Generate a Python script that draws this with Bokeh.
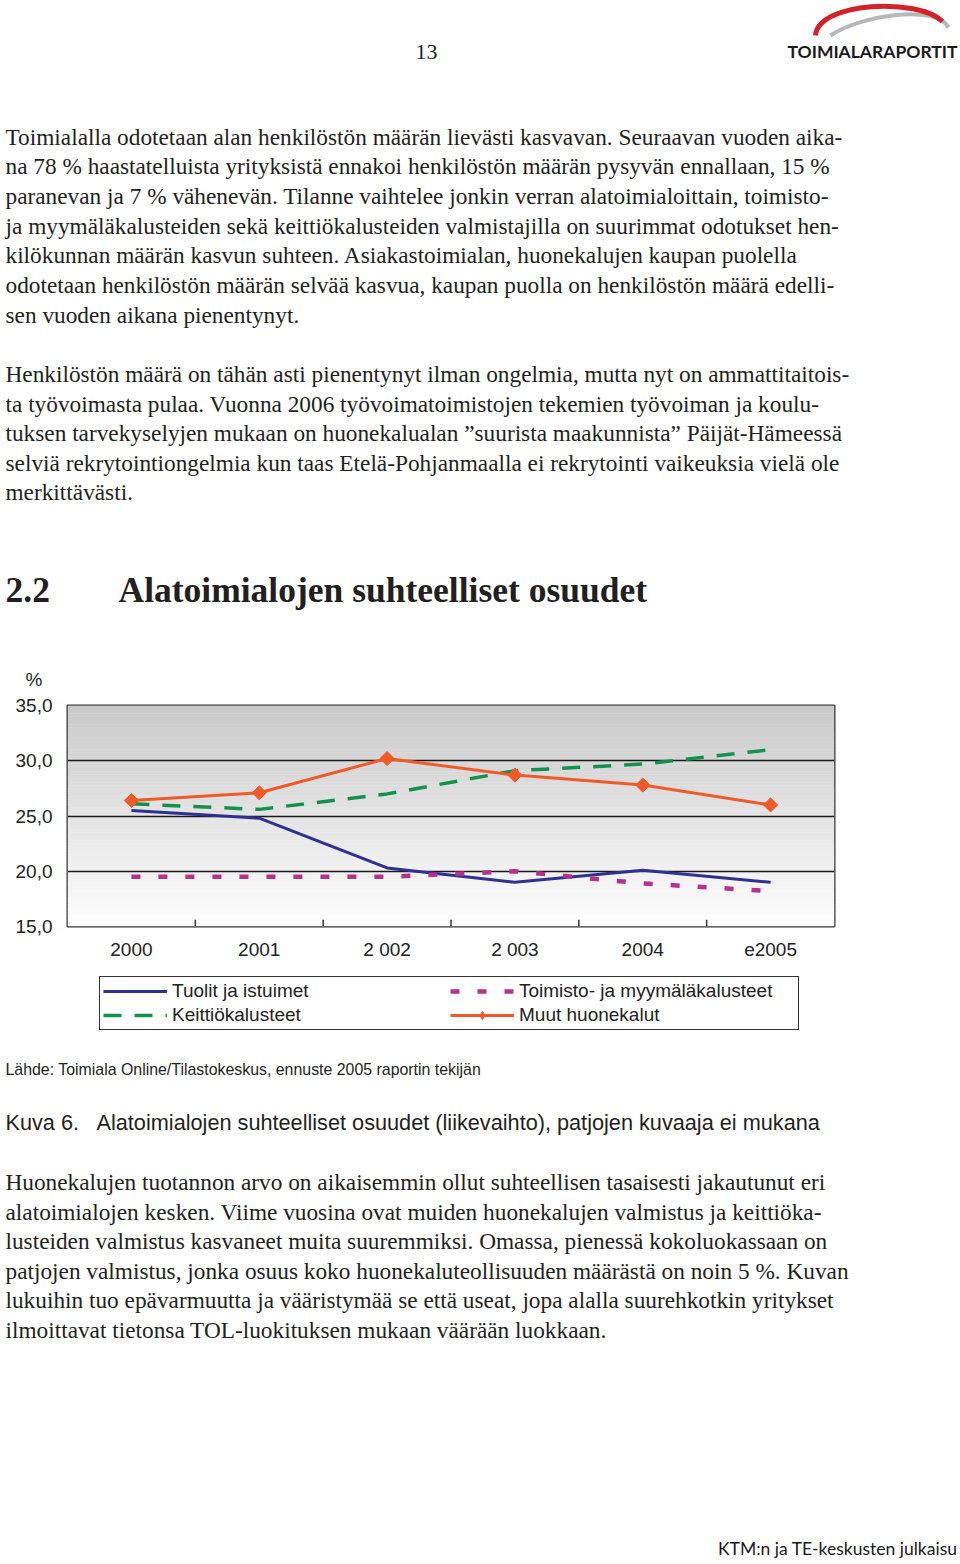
from bokeh.plotting import figure
from bokeh.models import (ColumnDataSource, Range1d, FactorRange, FixedTicker,
                          BoxAnnotation, Legend, LegendItem)
from bokeh.layouts import column
from bokeh.transform import dodge
from bokeh.core.properties import value
from bokeh.embed import file_html
from bokeh.resources import INLINE

# ---------------- data ----------------
years = ["2000", "2001", "2 002", "2 003", "2004", "e2005"]
tuolit = [25.5, 24.8, 20.3, 19.0, 20.1, 19.0]
toimisto = [19.5, 19.5, 19.5, 20.0, 18.9, 18.2]
keittio = [26.1, 25.6, 27.0, 29.1, 29.7, 31.0]
muut = [26.4, 27.1, 30.2, 28.7, 27.8, 26.0]
series_names = ["Tuolit ja istuimet", "Toimisto- ja myymäläkalusteet",
                "Keittiökalusteet", "Muut huonekalut"]
series_colors = ["#2e3192", "#b5308f", "#14924b", "#f05a28"]
y_ticks = [15, 20, 25, 30, 35]
y_tick_labels = ["15,0", "20,0", "25,0", "30,0", "35,0"]

page_number = "13"
logo_text = "TOIMIALARAPORTIT"
para1 = [
    "Toimialalla odotetaan alan henkilöstön määrän lievästi kasvavan. Seuraavan vuoden aika-",
    "na 78 % haastatelluista yrityksistä ennakoi henkilöstön määrän pysyvän ennallaan, 15 %",
    "paranevan ja 7 % vähenevän. Tilanne vaihtelee jonkin verran alatoimialoittain, toimisto-",
    "ja myymäläkalusteiden sekä keittiökalusteiden valmistajilla on suurimmat odotukset hen-",
    "kilökunnan määrän kasvun suhteen. Asiakastoimialan, huonekalujen kaupan puolella",
    "odotetaan henkilöstön määrän selvää kasvua, kaupan puolla on henkilöstön määrä edelli-",
    "sen vuoden aikana pienentynyt.",
]
para2 = [
    "Henkilöstön määrä on tähän asti pienentynyt ilman ongelmia, mutta nyt on ammattitaitois-",
    "ta työvoimasta pulaa. Vuonna 2006 työvoimatoimistojen tekemien työvoiman ja koulu-",
    "tuksen tarvekyselyjen mukaan on huonekalualan ”suurista maakunnista” Päijät-Hämeessä",
    "selviä rekrytointiongelmia kun taas Etelä-Pohjanmaalla ei rekrytointi vaikeuksia vielä ole",
    "merkittävästi.",
]
heading_num = "2.2"
heading_text = "Alatoimialojen suhteelliset osuudet"
source_text = "Lähde: Toimiala Online/Tilastokeskus, ennuste 2005 raportin tekijän"
caption_num = "Kuva 6."
caption_text = "Alatoimialojen suhteelliset osuudet (liikevaihto), patjojen kuvaaja ei mukana"
para3 = [
    "Huonekalujen tuotannon arvo on aikaisemmin ollut suhteellisen tasaisesti jakautunut eri",
    "alatoimialojen kesken. Viime vuosina ovat muiden huonekalujen valmistus ja keittiöka-",
    "lusteiden valmistus kasvaneet muita suuremmiksi. Omassa, pienessä kokoluokassaan on",
    "patjojen valmistus, jonka osuus koko huonekaluteollisuuden määrästä on noin 5 %. Kuvan",
    "lukuihin tuo epävarmuutta ja vääristymää se että useat, jopa alalla suurehkotkin yritykset",
    "ilmoittavat tietonsa TOL-luokituksen mukaan väärään luokkaan.",
]
footer_text = "KTM:n ja TE-keskusten julkaisu"

# ---------------- layout constants ----------------
W = 958
TOP_H = 650
CHART_H = 312
LEG_H = 83
BOT_H = 517
TXT = "#231f20"
SERIF = "Liberation Serif"
SANS = "Liberation Sans"
BODY = 23.3

# line styles per series
styles = [
    dict(line_width=3),
    dict(line_width=4.5, line_dash="9 18", line_cap="butt"),
    dict(line_width=3.5, line_dash="18 13", line_cap="butt"),
    dict(line_width=3),
]


def page_fig(h):
    f = figure(width=W, height=h, x_range=Range1d(0, W), y_range=Range1d(h, 0),
               output_backend="svg", toolbar_location=None, min_border=0,
               x_axis_type=None, y_axis_type=None, frame_align=False)
    f.outline_line_color = None
    f.background_fill_color = "white"
    f.border_fill_color = "white"
    return f


def add_lines(f, lines, x0, y0, dy, font, size, style="normal", align="left", color=TXT):
    src = ColumnDataSource(dict(x=[x0] * len(lines),
                                y=[y0 + i * dy for i in range(len(lines))],
                                t=lines))
    f.text(x="x", y="y", text="t", source=src, text_font=value(font),
           text_font_size=value(f"{size}px"), text_font_style=value(style),
           text_color=color, text_baseline=value("alphabetic"), text_align=value(align))


# ---------------- top page part ----------------
top = page_fig(TOP_H)
# logo arcs
top.bezier(x0=[830], y0=[35], x1=[948], y1=[27], cx0=[860], cy0=[15], cx1=[935], cy1=[3],
           line_color="#b8b8b8", line_width=4)
top.bezier(x0=[815], y0=[35], x1=[942], y1=[21], cx0=[818], cy0=[1], cx1=[918], cy1=[-3],
           line_color="#d2232a", line_width=5)
add_lines(top, [logo_text], 957, 51, 0, "Lato", 17.5, style="bold", align="right", color="#1a1a1a")
add_lines(top, [page_number], 426, 51, 0, SERIF, 22, align="center")
add_lines(top, para1, 5, 136, 29.7, SERIF, BODY)
add_lines(top, para2, 5, 373.5, 29.6, SERIF, BODY)
add_lines(top, [heading_num], 5, 589, 0, SERIF, 35.5, style="bold")
add_lines(top, [heading_text], 118, 589, 0, SERIF, 35.5, style="bold")

# ---------------- chart ----------------
c = figure(width=W, height=CHART_H, x_range=FactorRange(factors=years),
           y_range=Range1d(y_ticks[0], y_ticks[-1]),
           output_backend="svg", toolbar_location=None, frame_align=False,
           min_border_left=67, min_border_right=124, min_border_top=54, min_border_bottom=36)
c.background_fill_color = "white"
c.border_fill_color = "white"
c.outline_line_color = "#333333"
c.outline_line_width = 2

# vertical grey gradient background
n_bands = 80
y_lo, y_hi = y_ticks[0], y_ticks[-1]
for i in range(n_bands):
    lo = y_lo + (y_hi - y_lo) * i / n_bands
    hi = y_lo + (y_hi - y_lo) * (i + 1) / n_bands
    t = (i + 0.5) / n_bands
    g = int(round(254 - t * (254 - 201)))
    c.add_layout(BoxAnnotation(bottom=lo, top=hi + 0.03, fill_color=(g, g, g), fill_alpha=1,
                               line_color=None, level="image"))

src = ColumnDataSource(dict(x=years, tuolit=tuolit, toimisto=toimisto,
                            keittio=keittio, muut=muut))
cols = ["tuolit", "toimisto", "keittio", "muut"]
for col, color, st in zip(cols, series_colors, styles):
    c.line("x", col, source=src, line_color=color, **st)
c.scatter("x", "muut", source=src, marker="square", angle=0.785398, size=10,
          fill_color=series_colors[3], line_color=series_colors[3])

# ticks at category boundaries (pointing inward)
tick_src = ColumnDataSource(dict(x=years[:-1], y0=[y_lo] * (len(years) - 1),
                                 y1=[y_lo + 0.6] * (len(years) - 1)))
c.segment(x0=dodge("x", 0.5, range=c.x_range), y0="y0",
          x1=dodge("x", 0.5, range=c.x_range), y1="y1",
          source=tick_src, line_color="#333333", line_width=1.5)

c.xgrid.visible = False
c.ygrid.ticker = FixedTicker(ticks=y_ticks[1:-1])
c.ygrid.grid_line_color = "#1a1a1a"
c.ygrid.grid_line_width = 1.5

c.yaxis.ticker = FixedTicker(ticks=y_ticks)
c.yaxis.major_label_overrides = dict(zip(y_ticks, y_tick_labels))
c.yaxis.axis_line_color = None
c.yaxis.major_tick_in = 0
c.yaxis.major_tick_out = 0
c.yaxis.minor_tick_line_color = None
c.yaxis.major_label_standoff = 15
c.yaxis.major_label_text_font = SANS
c.yaxis.major_label_text_font_size = "19px"
c.yaxis.major_label_text_color = "#222222"

c.xaxis.axis_line_color = None
c.xaxis.major_tick_in = 0
c.xaxis.major_tick_out = 0
c.xaxis.major_label_standoff = 12
c.xaxis.major_label_text_font = SANS
c.xaxis.major_label_text_font_size = "19px"
c.xaxis.major_label_text_color = "#222222"

c.title.text = "%"
c.title.align = "left"
c.title.offset = -42
c.title.standoff = 32
c.title.text_font = SANS
c.title.text_font_size = "19px"
c.title.text_font_style = "normal"
c.title.text_color = "#222222"

# ---------------- legend (own strip below the chart) ----------------
lf = page_fig(LEG_H)
nan = float("nan")
leg_r = []
for color, st in zip(series_colors, styles):
    leg_r.append(lf.line(x=[nan], y=[nan], line_color=color, **st))
leg_m = lf.scatter(x=[nan], y=[nan], marker="diamond", size=14,
                   fill_color=series_colors[3], line_color=series_colors[3])
legend = Legend(items=[
    LegendItem(label=series_names[0], renderers=[leg_r[0]]),
    LegendItem(label=series_names[2], renderers=[leg_r[2]]),
    LegendItem(label=series_names[1], renderers=[leg_r[1]]),
    LegendItem(label=series_names[3], renderers=[leg_r[3], leg_m]),
], orientation="vertical", ncols=2, location=(99, 15),
    label_text_font=SANS, label_text_font_size="19px", label_text_color="#222222",
    glyph_width=64, glyph_height=20, label_height=20, label_width=276,
    label_standoff=5, spacing=2, padding=3, margin=0,
    border_line_color="#333333", border_line_width=1.5, border_line_alpha=1,
    background_fill_color="white", background_fill_alpha=1)
lf.add_layout(legend)

# ---------------- bottom page part ----------------
bot = page_fig(BOT_H)
add_lines(bot, [source_text], 5, 23.5, 0, SANS, 15.9)
add_lines(bot, [caption_num], 5, 76.5, 0, SANS, 21.7)
add_lines(bot, [caption_text], 96, 76.5, 0, SANS, 21.7)
add_lines(bot, para3, 5, 136.5, 29.5, SERIF, BODY)
add_lines(bot, [footer_text], 957, 503, 0, "Lato", 17.5, align="right", color="#1a1a1a")

layout = column(top, c, lf, bot, spacing=0)
open("out.html", "w").write(file_html(layout, INLINE))
